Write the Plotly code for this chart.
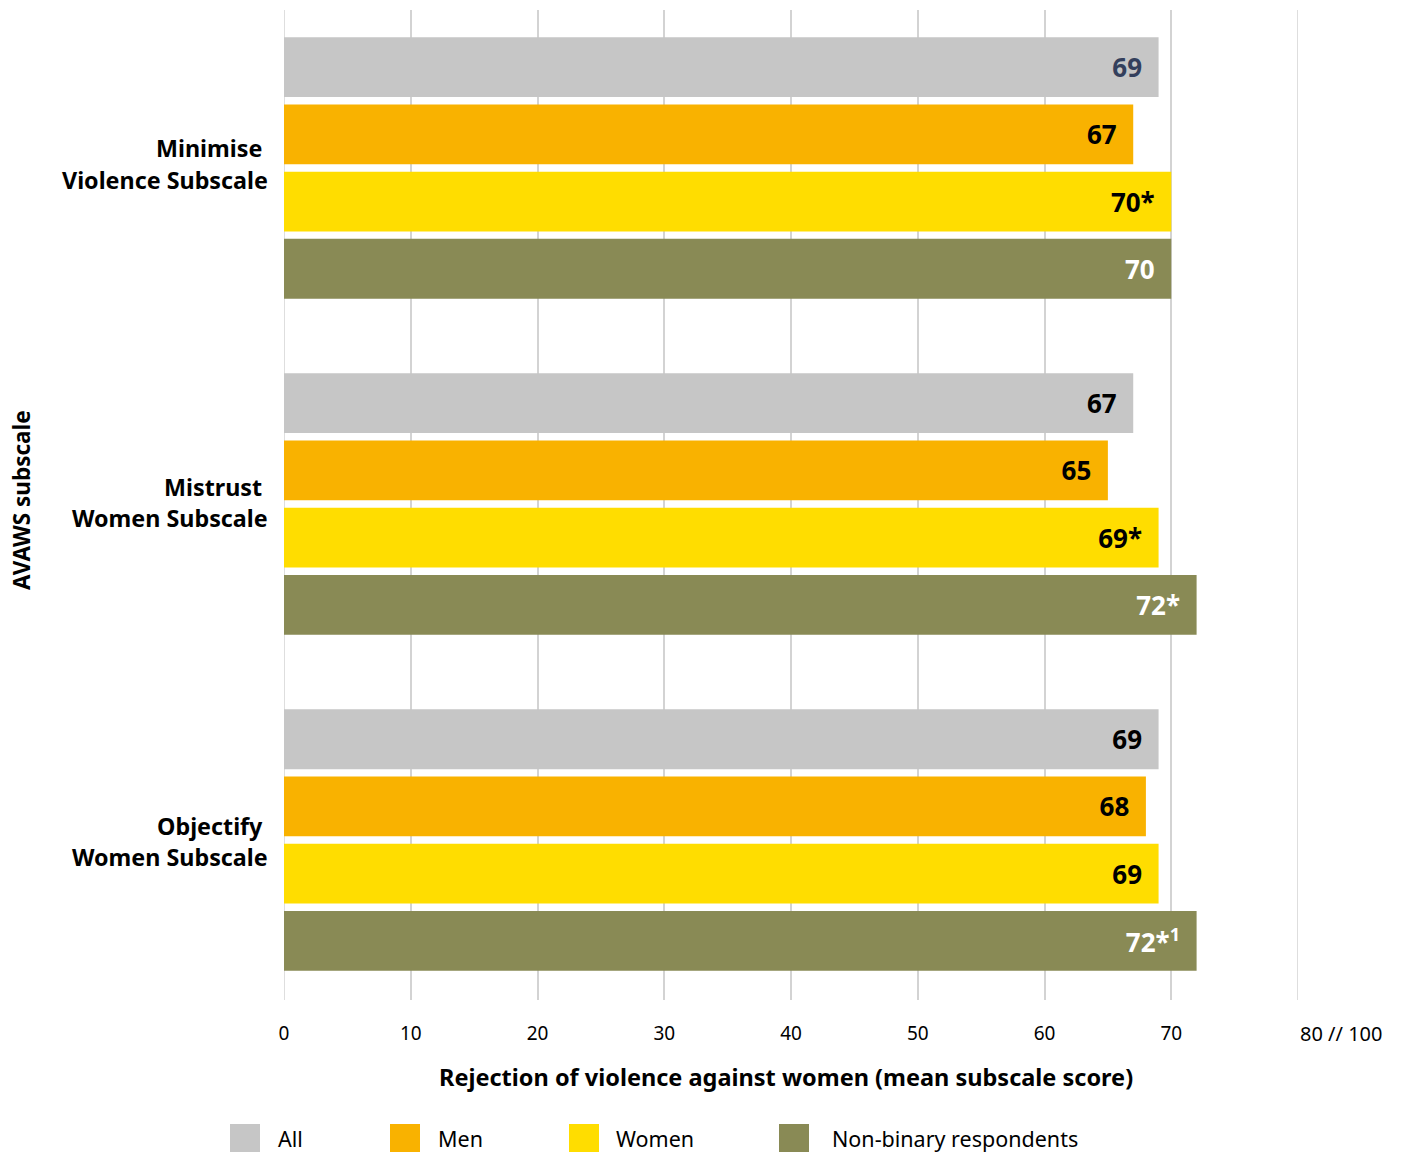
import plotly.graph_objects as go

categories = ["Minimise Violence Subscale", "Mistrust Women Subscale", "Objectify Women Subscale"]
cat_line1 = ["Minimise\u00a0", "Mistrust\u00a0", "Objectify\u00a0"]
cat_line2 = ["Violence Subscale", "Women Subscale", "Women Subscale"]

series_names = ["All", "Men", "Women", "Non-binary respondents"]
all_vals = [69, 67, 69]
men_vals = [67, 65, 68]
women_vals = [70, 69, 69]
nb_vals = [70, 72, 72]

all_suffix = ["", "", ""]
men_suffix = ["", "", ""]
women_suffix = ["*", "*", ""]
nb_suffix = ["", "*", "*<sup>1</sup>"]

colors = ["#C6C6C6", "#F9B200", "#FFDD00", "#898A55"]
label_colors = [["#333F5C", "#000000", "#000000"], ["#000000"] * 3, ["#000000"] * 3, ["#FFFFFF"] * 3]

tick_vals = [0, 10, 20, 30, 40, 50, 60, 70]
tick_text = ["0", "10", "20", "30", "40", "50", "60", "70"]
axis_min = 0
axis_max = 80
last_tick_label = "80 // 100"

FONT = "Noto Sans, Open Sans, sans-serif"
GRID = "#D3D3D3"
OFF = 8  # page body margin
W, H = 1402 - OFF, 1152 - OFF
ML, MT = 284 - OFF, 10 - OFF
MR = W - (1298 - OFF)
MB = H - (1000 - OFF)
PW, PH = W - ML - MR, H - MT - MB


def px_to_paper_x(px):
    return (px - OFF - ML) / PW


def px_to_paper_y(py):
    return (H - MB - (py - OFF)) / PH


fig = go.Figure()
pad = "\u00a0\u00a0"
for name, vals, suf, col, lc in zip(series_names, [all_vals, men_vals, women_vals, nb_vals],
                                    [all_suffix, men_suffix, women_suffix, nb_suffix], colors, label_colors):
    fig.add_trace(go.Bar(
        y=categories, x=vals, orientation="h", name=name,
        marker=dict(color=col, line=dict(width=0)),
        text=[f"<b>{v}{s}</b>{pad}" for v, s in zip(vals, suf)],
        textposition="inside", insidetextanchor="end", constraintext="none",
        textfont=dict(family=FONT, size=26, color=lc),
        cliponaxis=False, showlegend=False,
    ))

fig.update_layout(
    width=W, height=H,
    margin=dict(l=ML, r=MR, t=MT, b=MB),
    paper_bgcolor="white", plot_bgcolor="white",
    barmode="group", bargap=0.2, bargroupgap=0.11,
    font=dict(family=FONT, color="#000000"),
    showlegend=False,
)
fig.update_xaxes(
    range=[axis_min, axis_max], tickvals=tick_vals, ticktext=tick_text,
    showgrid=True, gridcolor=GRID, gridwidth=1.5, zeroline=False,
    showline=False, ticks="", ticklabelstandoff=20,
    tickfont=dict(family=FONT, size=19, color="#000000"),
)
fig.update_yaxes(
    categoryorder="array", categoryarray=categories,
    range=[2.476, -0.47], showticklabels=False, showgrid=False, zeroline=False, ticks="",
)

anns = []
shifts = [(20, -12), (17, -14), (14, -17)]
for i, (l1, l2) in enumerate(zip(cat_line1, cat_line2)):
    for txt, ys in ((l1, shifts[i][0]), (l2, shifts[i][1])):
        anns.append(dict(text=f"<b>{txt}</b>", x=px_to_paper_x(270), xref="paper", y=categories[i], yref="y",
                         xanchor="right", yanchor="middle", yshift=ys, showarrow=False,
                         font=dict(family=FONT, size=23.3, color="#000000")))

anns.append(dict(text=last_tick_label, x=axis_max, xref="x", y=px_to_paper_y(1033), yref="paper",
                 xanchor="left", yanchor="middle", showarrow=False, font=dict(family=FONT, size=20, color="#000000")))
anns.append(dict(text="<b>Rejection of violence against women (mean subscale score)</b>",
                 x=px_to_paper_x(786), y=px_to_paper_y(1077), xref="paper", yref="paper",
                 xanchor="center", yanchor="middle", showarrow=False, font=dict(family=FONT, size=23.5, color="#000000")))
anns.append(dict(text="<b>AVAWS subscale</b>", x=px_to_paper_x(22), y=px_to_paper_y(500), xref="paper", yref="paper",
                 xanchor="center", yanchor="middle", textangle=-90, showarrow=False,
                 font=dict(family=FONT, size=22.5, color="#000000")))

shapes = [dict(type="line", xref="x", yref="paper", x0=xv, x1=xv, y0=0, y1=1,
               line=dict(color=GRID, width=1.5), layer="below") for xv in (axis_min, axis_max)]

# legend
legend_swatch_x = [230, 390, 569, 779]
legend_text_x = [276, 436, 614, 830]
for name, col, sx, tx in zip(series_names, colors, legend_swatch_x, legend_text_x):
    shapes.append(dict(type="rect", xref="paper", yref="paper",
                       x0=px_to_paper_x(sx), x1=px_to_paper_x(sx + 30),
                       y0=px_to_paper_y(1152), y1=px_to_paper_y(1124),
                       fillcolor=col, line=dict(width=0), layer="above"))
    anns.append(dict(text=name, x=px_to_paper_x(tx), y=px_to_paper_y(1138), xref="paper", yref="paper",
                     xanchor="left", yanchor="middle", showarrow=False,
                     font=dict(family=FONT, size=21.5, color="#000000")))

fig.update_layout(annotations=anns, shapes=shapes)
fig.write_html("out.html")
